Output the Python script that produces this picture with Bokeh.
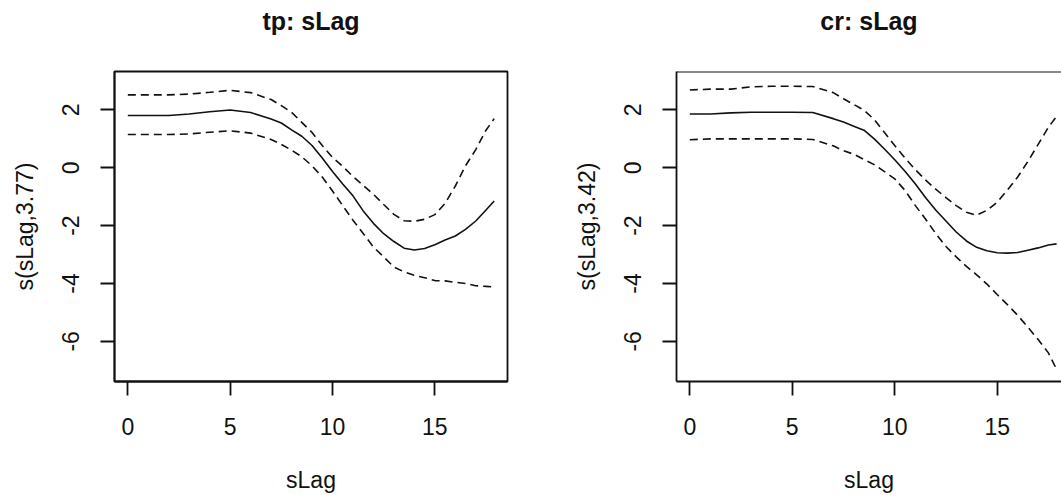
from bokeh.plotting import figure
from bokeh.layouts import row
from bokeh.models import Range1d, FixedTicker, Span, LinearAxis
from bokeh.embed import file_html
from bokeh.resources import INLINE

# ---- data ----
x_pts = [0, 1, 2, 3, 4, 5, 6, 7, 7.5, 8, 8.5, 9, 9.5, 10, 10.5, 11, 11.5, 12, 12.5,
         13, 13.5, 14, 14.5, 15, 15.5, 16, 16.5, 17, 17.5, 17.9]

tp_fit = [1.81, 1.81, 1.81, 1.86, 1.94, 2.00, 1.91, 1.69, 1.55, 1.31, 1.09, 0.77, 0.34,
          -0.13, -0.56, -0.97, -1.49, -1.92, -2.28, -2.55, -2.78, -2.84, -2.79, -2.66,
          -2.50, -2.36, -2.13, -1.84, -1.46, -1.15]
tp_upper = [2.52, 2.52, 2.52, 2.55, 2.61, 2.68, 2.60, 2.36, 2.15, 1.92, 1.57, 1.22, 0.77,
            0.36, 0.05, -0.30, -0.61, -0.92, -1.27, -1.61, -1.83, -1.85, -1.78, -1.62,
            -1.23, -0.63, 0.07, 0.63, 1.30, 1.70]
tp_lower = [1.15, 1.15, 1.15, 1.17, 1.23, 1.28, 1.20, 0.98, 0.81, 0.61, 0.38, 0.07, -0.32,
            -0.80, -1.31, -1.81, -2.27, -2.74, -3.08, -3.43, -3.60, -3.72, -3.80, -3.90,
            -3.91, -3.96, -4.00, -4.08, -4.10, -4.12]

cr_fit = [1.86, 1.86, 1.90, 1.92, 1.92, 1.92, 1.91, 1.70, 1.58, 1.44, 1.30, 1.00, 0.65,
          0.28, -0.12, -0.55, -1.03, -1.46, -1.84, -2.22, -2.53, -2.75, -2.87, -2.94,
          -2.95, -2.93, -2.85, -2.77, -2.67, -2.63]
cr_upper = [2.69, 2.72, 2.72, 2.80, 2.82, 2.82, 2.81, 2.60, 2.39, 2.19, 1.99, 1.67, 1.22,
            0.77, 0.34, -0.06, -0.42, -0.74, -1.03, -1.31, -1.54, -1.64, -1.47, -1.19,
            -0.77, -0.32, 0.22, 0.81, 1.40, 1.78]
cr_lower = [0.97, 1.00, 1.00, 1.00, 1.00, 1.00, 0.98, 0.76, 0.59, 0.47, 0.29, 0.11, -0.13,
            -0.38, -0.78, -1.30, -1.77, -2.27, -2.72, -3.08, -3.41, -3.70, -4.02, -4.38,
            -4.73, -5.10, -5.51, -5.94, -6.40, -6.97]

x_ticks = [0, 5, 10, 15]
y_ticks = [-6, -4, -2, 0, 2]

panels = [
    ("tp: sLag", "s(sLag,3.77)", tp_fit, tp_upper, tp_lower),
    ("cr: sLag", "s(sLag,3.42)", cr_fit, cr_upper, cr_lower),
]

FONT = "Liberation Sans"
INK = "#111111"
Y0, Y1 = -7.39, 3.33
X0 = -0.65


def make_panel(title, ylab, fit, upper, lower, width, border_left, border_right, x_end, outline):
    p = figure(width=width, height=495, output_backend="svg", toolbar_location=None,
               title=None,
               x_range=Range1d(X0, x_end), y_range=Range1d(Y0, Y1),
               min_border_left=border_left, min_border_right=border_right,
               min_border_top=71, min_border_bottom=111)
    p.grid.visible = False
    p.background_fill_color = "white"
    p.border_fill_color = "white"
    if outline:
        p.outline_line_color = INK
        p.outline_line_width = 1.8
    else:
        p.outline_line_color = None
        p.add_layout(Span(location=Y1, dimension="width", line_color=INK, line_width=1.8))

    xax = p.below[0]
    yax = p.left[0]
    for ax in (xax, yax):
        ax.axis_line_color = INK
        ax.axis_line_width = 1.8
        ax.major_tick_line_color = INK
        ax.major_tick_line_width = 1.8
        ax.major_tick_out = 14
        ax.major_tick_in = 0
        ax.minor_tick_line_color = None
        ax.major_label_text_font = FONT
        ax.major_label_text_font_size = "23px"
        ax.major_label_text_color = INK
        ax.axis_label_text_font = FONT
        ax.axis_label_text_font_size = "23px"
        ax.axis_label_text_font_style = "normal"
        ax.axis_label_text_color = INK

    xax.ticker = FixedTicker(ticks=x_ticks)
    yax.ticker = FixedTicker(ticks=y_ticks)
    yax.major_label_overrides = {t: str(t) for t in y_ticks}
    xax.axis_label = "sLag"
    yax.axis_label = ylab
    yax.major_label_orientation = "vertical"
    xax.major_label_standoff = 22
    xax.axis_label_standoff = 29
    yax.major_label_standoff = 21
    yax.axis_label_standoff = 22

    # main title: centred above the frame (tick-less top axis carrying only its label)
    top = LinearAxis(ticker=FixedTicker(ticks=[]), axis_label=title,
                     axis_label_standoff=37, axis_label_text_font=FONT,
                     axis_label_text_font_size="25px", axis_label_text_font_style="bold",
                     axis_label_text_color=INK, axis_line_color=None,
                     major_tick_line_color=None, minor_tick_line_color=None,
                     major_tick_out=0, major_tick_in=0, major_label_standoff=0)
    p.add_layout(top, "above")

    p.line(x_pts, upper, line_color=INK, line_width=1.6, line_dash="8 5")
    p.line(x_pts, lower, line_color=INK, line_width=1.6, line_dash="8 5")
    p.line(x_pts, fit, line_color=INK, line_width=1.6)
    return p


left = make_panel(*panels[0], width=530, border_left=114, border_right=23, x_end=18.55, outline=True)
right = make_panel(*panels[1], width=531, border_left=146, border_right=0,
                   x_end=X0 + 385 / 20.49, outline=False)

layout = row(left, right, spacing=0)
open("out.html", "w").write(file_html(layout, INLINE))
